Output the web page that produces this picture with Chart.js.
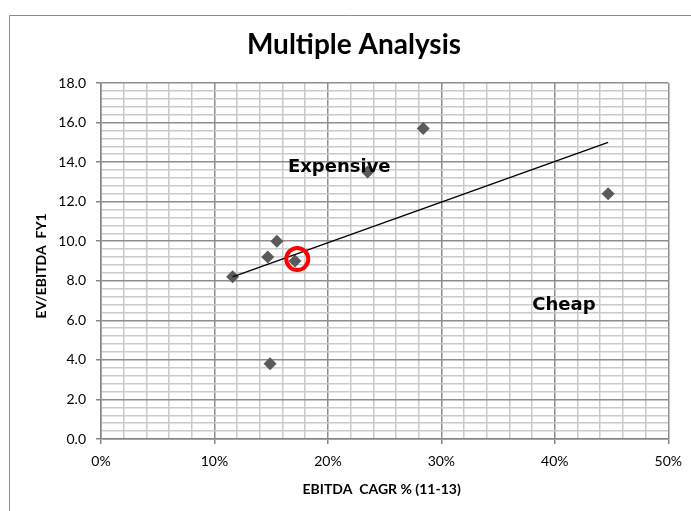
<!DOCTYPE html>
<html>
<head>
<meta charset="utf-8">
<script src="https://cdn.jsdelivr.net/npm/chart.js@4.4.1/dist/chart.umd.min.js"></script>
<style>
  html, body { margin: 0; padding: 0; background: #ffffff; }
  canvas { display: block; }
</style>
</head>
<body>
<canvas id="chart" width="691" height="511"></canvas>
<script>
// Peer group: EBITDA growth (x, %) against EV/EBITDA multiple (y)
const cagrPct   = [11.6, 14.7, 15.5, 17.1, 14.9, 23.5, 28.4, 44.7];
const evEbitda  = [8.2, 9.2, 10.0, 9.0, 3.8, 13.5, 15.7, 12.4];

// Highlighted company (red ring)
const focusCagr     = [17.3];
const focusMultiple = [9.1];

// Linear trend line end points
const trendCagr     = [11.6, 44.7];
const trendMultiple = [8.2, 15.0];

// Tick labels
const xTickLabels = ['0%', '10%', '20%', '30%', '40%', '50%'];
const yTickLabels = ['0.0', '2.0', '4.0', '6.0', '8.0', '10.0', '12.0', '14.0', '16.0', '18.0'];

// Texts
const chartTitle = 'Multiple Analysis';
const xTitle = 'EBITDA  CAGR % (11-13)';
const yTitle = 'EV/EBITDA  FY1';
const zoneNames = ['Expensive', 'Cheap'];

const toPoints = (xs, ys) => xs.map((x, i) => ({ x: x, y: ys[i] }));

const MAJOR_GRID = '#8e8e8e';
const MINOR_GRID = '#cacaca';
const isMultiple = (v, step) => Math.abs(v / step - Math.round(v / step)) < 1e-6;

const FONT = 'Lato, "Liberation Sans", sans-serif';

// Outer frame, titles and zone captions
const decorations = {
  id: 'decorations',
  beforeDraw(chart) {
    const c = chart.ctx;
    c.save();
    c.fillStyle = '#ffffff';
    c.fillRect(0, 0, chart.width, chart.height);
    c.strokeStyle = '#8c8c8c';
    c.lineWidth = 1;
    c.beginPath();
    c.moveTo(9.5, chart.height);
    c.lineTo(9.5, 15.5);
    c.lineTo(chart.width, 15.5);
    c.stroke();
    c.restore();
  },
  afterDatasetsDraw(chart) {
    const c = chart.ctx;
    const xs = chart.scales.x, ys = chart.scales.y;
    c.save();
    c.fillStyle = '#000000';
    c.textAlign = 'center';
    c.textBaseline = 'middle';
    c.font = 'bold 18px "DejaVu Sans", sans-serif';
    const anchors = [[21.0, 13.75], [40.8, 6.75]];
    zoneNames.forEach((t, i) => {
      c.fillText(t, xs.getPixelForValue(anchors[i][0]), ys.getPixelForValue(anchors[i][1]));
    });
    c.restore();
  },
  afterDraw(chart) {
    const c = chart.ctx;
    const area = chart.chartArea;
    c.save();
    c.fillStyle = '#000000';
    c.textAlign = 'center';
    c.textBaseline = 'alphabetic';
    c.font = 'bold 28px ' + FONT;
    c.fillText(chartTitle, 354, 54);

    c.textBaseline = 'middle';
    c.font = 'bold 14px ' + FONT;
    c.fillText(xTitle, (area.left + area.right) / 2 - 3, 489);

    c.translate(41, 266);
    c.rotate(-Math.PI / 2);
    c.fillText(yTitle, 0, 0);
    c.restore();
  }
};

new Chart(document.getElementById('chart'), {
  type: 'scatter',
  data: {
    datasets: [
      {
        label: 'Focus',
        data: toPoints(focusCagr, focusMultiple),
        pointStyle: 'circle',
        pointRadius: 11,
        pointHoverRadius: 11,
        borderWidth: 4,
        pointBorderWidth: 4,
        borderColor: '#ff0000',
        backgroundColor: 'rgba(0,0,0,0)'
      },
      {
        label: 'Trend',
        data: toPoints(trendCagr, trendMultiple),
        showLine: true,
        borderColor: '#000000',
        borderWidth: 1.3,
        pointRadius: 0,
        pointHoverRadius: 0,
        fill: false
      },
      {
        label: 'Peers',
        data: toPoints(cagrPct, evEbitda),
        pointStyle: 'rectRot',
        pointRadius: 6.5,
        pointHoverRadius: 6.5,
        borderWidth: 0,
        pointBorderWidth: 0,
        backgroundColor: '#5a5a5a',
        borderColor: '#5a5a5a'
      }
    ]
  },
  options: {
    responsive: false,
    animation: false,
    devicePixelRatio: 1,
    layout: { padding: { top: 83, right: 19, bottom: 0, left: 0 } },
    plugins: {
      legend: { display: false },
      title: { display: false },
      tooltip: { enabled: false }
    },
    scales: {
      x: {
        type: 'linear',
        position: 'bottom',
        min: 0,
        max: 50,
        afterFit: s => { s.height = 72; },
        border: { color: '#868686', width: 1.5 },
        grid: {
          color: ctx => (ctx.tick && isMultiple(ctx.tick.value, 10)) ? MAJOR_GRID : MINOR_GRID,
          lineWidth: 1.5,
          tickLength: 5,
          tickColor: ctx => (ctx.tick && isMultiple(ctx.tick.value, 10)) ? '#868686' : 'rgba(0,0,0,0)'
        },
        ticks: {
          stepSize: 2,
          maxTicksLimit: 100,
          autoSkip: false,
          maxRotation: 0,
          padding: 9,
          color: '#000000',
          font: { family: FONT, size: 14 },
          callback: v => isMultiple(v, 10) ? xTickLabels[Math.round(v / 10)] : ''
        }
      },
      y: {
        type: 'linear',
        position: 'left',
        min: 0,
        max: 18,
        afterFit: s => { s.width = 101; },
        border: { color: '#868686', width: 1.5 },
        grid: {
          color: ctx => (ctx.tick && isMultiple(ctx.tick.value, 2)) ? MAJOR_GRID : MINOR_GRID,
          lineWidth: 1.5,
          tickLength: 5,
          tickColor: ctx => (ctx.tick && isMultiple(ctx.tick.value, 2)) ? '#868686' : 'rgba(0,0,0,0)'
        },
        ticks: {
          stepSize: 0.4,
          maxTicksLimit: 100,
          autoSkip: false,
          padding: 10,
          color: '#000000',
          font: { family: FONT, size: 14 },
          callback: v => isMultiple(v, 2) ? yTickLabels[Math.round(v / 2)] : ''
        }
      }
    }
  },
  plugins: [decorations]
});
</script>
</body>
</html>
